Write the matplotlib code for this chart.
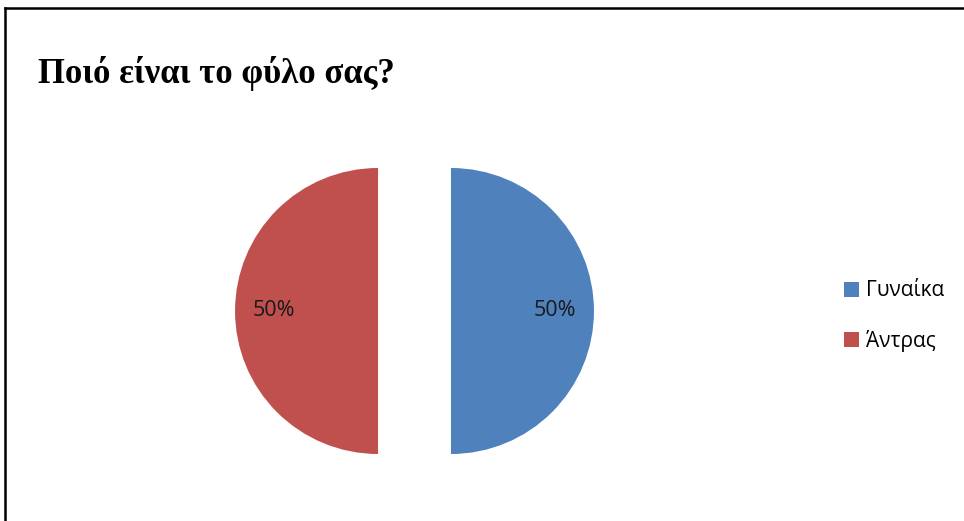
import matplotlib.pyplot as plt
from matplotlib.lines import Line2D

# δεδομένα
labels = ['Γυναίκα', 'Άντρας']
values = [50, 50]
colors = ['#4F81BD', '#C0504D']
title = 'Ποιό είναι το φύλο σας?'

W, H = 964, 521
fig = plt.figure(figsize=(W / 100, H / 100), dpi=100)
fig.patch.set_facecolor('white')

# άξονες της πίτας (σε pixel)
R = 143.0
cx, cy = 414.5, H - 311
half = 200
ax = fig.add_axes([(cx - half) / W, (cy - half) / H, 2 * half / W, 2 * half / H])
wedges, texts, autotexts = ax.pie(values, colors=colors, startangle=90, counterclock=False,
                                  explode=[0.255, 0.255], radius=1.0,
                                  autopct='%1.0f%%', pctdistance=0.73,
                                  textprops={'fontsize': 15.5, 'family': 'Open Sans', 'color': '#1a1a1a'},
                                  wedgeprops={'linewidth': 0})
lim = half / R
ax.set_xlim(-lim, lim)
ax.set_ylim(-lim, lim)
ax.set_aspect('equal')
ax.axis('off')

# τίτλος
fig.text(38 / W, (H - 83) / H, title, family='Liberation Serif', fontweight='bold',
         fontsize=25, va='baseline', ha='left')

# υπόμνημα
fig.legend(wedges, labels, loc='center left', bbox_to_anchor=(825 / W, (H - 316) / H),
           frameon=False, handlelength=0.75, handleheight=0.75, handletextpad=0.3,
           labelspacing=1.35, prop={'family': 'Open Sans', 'size': 15})

# πλαίσιο (πάνω και αριστερά)
fig.add_artist(Line2D([5 / W, 1], [1 - 8 / H, 1 - 8 / H], transform=fig.transFigure, color='black', lw=1.8))
fig.add_artist(Line2D([5 / W, 5 / W], [0, 1 - 8 / H], transform=fig.transFigure, color='black', lw=1.8))

fig.savefig('out.png', dpi=100)
